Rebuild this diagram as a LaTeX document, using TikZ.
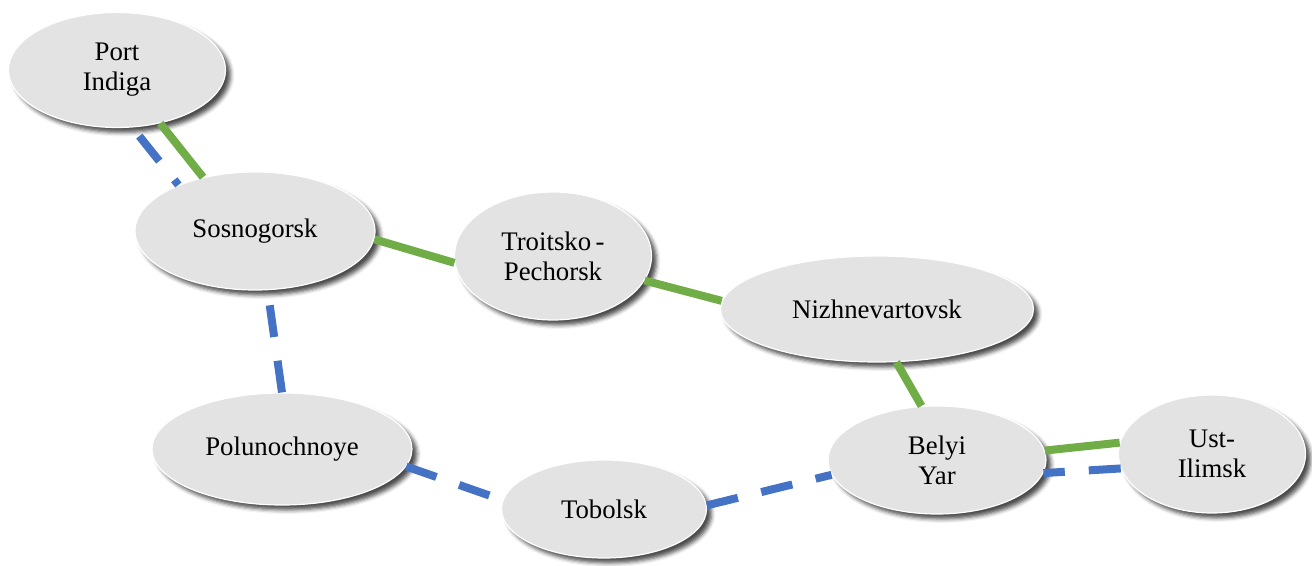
\documentclass[tikz,border=0pt]{standalone}
\usepackage{fontspec}
\setmainfont{Liberation Serif}
\usepackage{tikz}
\usetikzlibrary{shapes.geometric, shadows.blur}
\definecolor{cityfill}{HTML}{E3E3E3}
\definecolor{railgreen}{HTML}{70AD47}
\definecolor{railblue}{HTML}{4472C4}

\begin{document}
\begin{tikzpicture}[x=0.5pt, y=-0.5pt,
    city/.style={ellipse, fill=cityfill, draw=white, line width=0.6pt, inner sep=0pt, align=center,
        font=\fontsize{13.4}{15}\selectfont,
        blur shadow={shadow xshift=2.5pt, shadow yshift=-2.5pt, shadow blur radius=2pt, shadow opacity=70}},
    green link/.style={draw=railgreen, line width=4pt},
    blue link/.style={draw=railblue, line width=4pt, dash pattern=on 16pt off 12pt}]
    \useasboundingbox (0,0) rectangle (1312,566);

    % Nodes
    \node (indiga) [city, minimum width=108.5pt, minimum height=57.5pt] at (117,70) {Port\\Indiga};
    \node (sosnogorsk) [city, minimum width=120pt, minimum height=59pt] at (255,231) {Sosnogorsk};
    \node (troitsko) [city, minimum width=98.5pt, minimum height=64pt] at (553,256) {Troitsko\,-\\Pechorsk};
    \node (nizhnevartovsk) [city, minimum width=156.5pt, minimum height=53pt] at (877,309) {Nizhnevartovsk};
    \node (polunochnoye) [city, minimum width=130pt, minimum height=56pt] at (282,449) {Polunochnoye};
    \node (tobolsk) [city, minimum width=102.5pt, minimum height=49pt] at (604,509) {Tobolsk};
    \node (belyi) [city, minimum width=109pt, minimum height=54pt] at (937,460) {Belyi\\Yar};
    \node (ust) [city, minimum width=93.5pt, minimum height=59pt] at (1212,454) {Ust-\\Ilimsk};

    % Links
    \draw[green link] (indiga.-51) -- (sosnogorsk.134.5);
    \draw[green link] (sosnogorsk.-4.4) -- (troitsko.184);
    \draw[green link] (troitsko.-15.6) -- (nizhnevartovsk.177.7);
    \draw[green link] (nizhnevartovsk.-70.7) -- (belyi.106.4);
    \draw[green link] (belyi.5.8) -- (ust.173.2);
    \draw[blue link, dash phase=22.5pt] (indiga.-75) -- (sosnogorsk.149.6);
    \draw[blue link] (polunochnoye.90) -- (sosnogorsk.-78);
    \draw[blue link] (polunochnoye.-8.5) -- (tobolsk.175);
    \draw[blue link] (tobolsk.2) -- (belyi.188.6);
    \draw[blue link] (ust.189.7) -- (belyi.-7.4);
\end{tikzpicture}
\end{document}
